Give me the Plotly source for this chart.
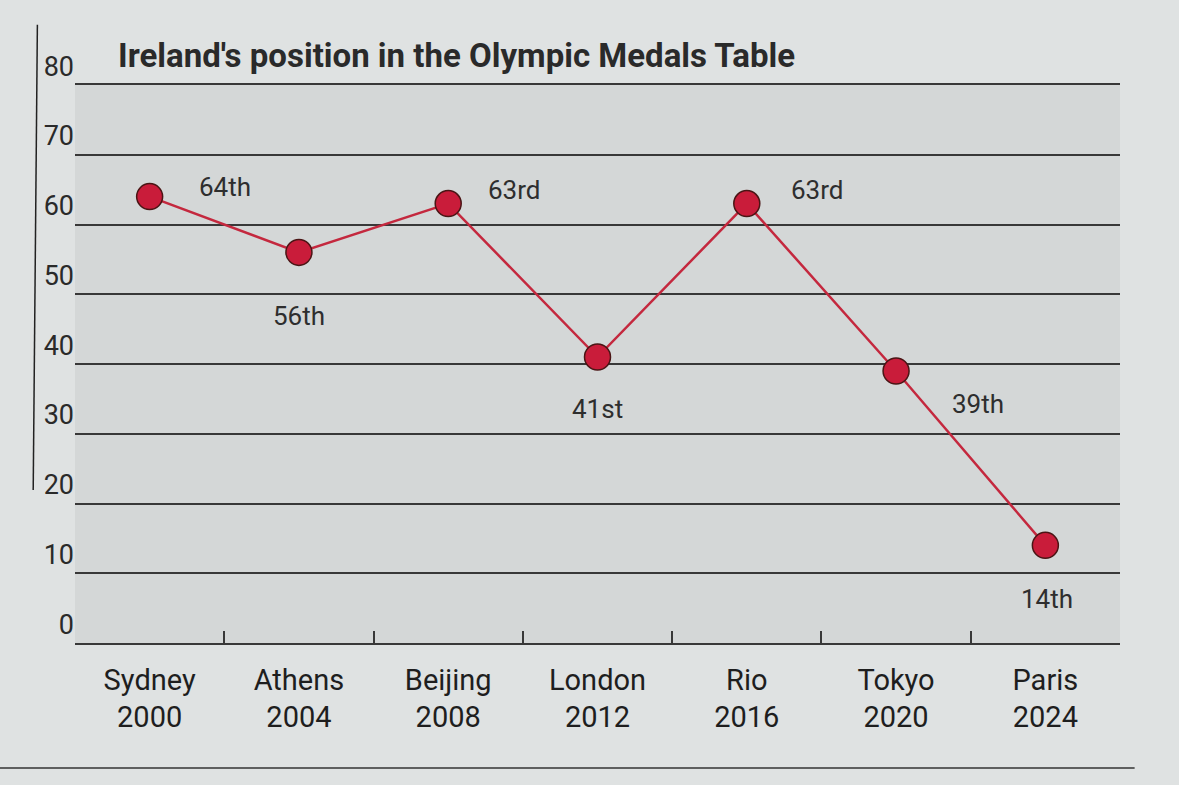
import plotly.graph_objects as go

# Ireland's rank in the medals table
games = ["Sydney<br>2000", "Athens<br>2004", "Beijing<br>2008", "London<br>2012",
         "Rio<br>2016", "Tokyo<br>2020", "Paris<br>2024"]
position = [64, 56, 63, 41, 63, 39, 14]
labels = ["64th", "56th", "63rd", "41st", "63rd", "39th", "14th"]

# label offset (px) from each marker, +y is up
label_dx = [75, 0, 66, 0, 70, 82, 2]
label_dy = [10, -64, 14, -52, 14, -33, -54]

fnt = "Roboto, sans-serif"
line_red = "#c4283e"
dot_red = "#c91c3a"
grid = "#383838"

fig = go.Figure()
fig.add_trace(go.Scatter(
    x=games, y=position, mode="lines+markers",
    line=dict(color=line_red, width=2.5),
    marker=dict(size=26, color=dot_red, line=dict(color="#4a1515", width=1.5)),
    hoverinfo="skip", showlegend=False,
))

for g, p, t, dx, dy in zip(games, position, labels, label_dx, label_dy):
    fig.add_annotation(x=g, y=p, text=t, showarrow=False, xshift=dx, yshift=dy,
                       font=dict(family=fnt, size=26, color="#2e2e2e"))

# page rules
fig.add_shape(type="line", xref="paper", yref="paper", x0=-0.036, x1=-0.04, y0=1.108, y1=0.274,
              line=dict(color="#222", width=1.5))
fig.add_shape(type="line", xref="paper", yref="paper", x0=-0.072, x1=1.014, y0=-0.224, y1=-0.224,
              line=dict(color="#333", width=1.5))

fig.update_layout(
    width=1179, height=785,
    margin=dict(l=75, r=59, t=85, b=142),
    paper_bgcolor="#dfe2e2",
    plot_bgcolor="#d4d7d7",
    title=dict(text="<b>Ireland's position in the Olympic Medals Table</b>",
               x=118 / 1179, xanchor="left", y=1 - 55 / 785, yanchor="middle",
               font=dict(family="Roboto, sans-serif", size=33, color="#2a2a2a")),
    font=dict(family=fnt, color="#222"),
)
fig.update_xaxes(
    type="category", range=[-0.5, 6.5], tickson="boundaries",
    ticks="inside", ticklen=12, tickwidth=1.5, tickcolor=grid,
    showline=True, mirror=True, linecolor=grid, linewidth=1.5, showgrid=False,
    ticklabelstandoff=10,
    tickfont=dict(family=fnt, size=29, color="#1e1e1e"),
)
fig.update_yaxes(
    range=[0, 80], dtick=10, showgrid=True, gridcolor=grid, gridwidth=1.5,
    zeroline=False, ticks="", ticklabelposition="outside top",
    tickfont=dict(family=fnt, size=27, color="#2a2a2a"),
)

fig.write_html("out.html", config={"displayModeBar": False},
               post_script="document.body.style.margin='0';")
